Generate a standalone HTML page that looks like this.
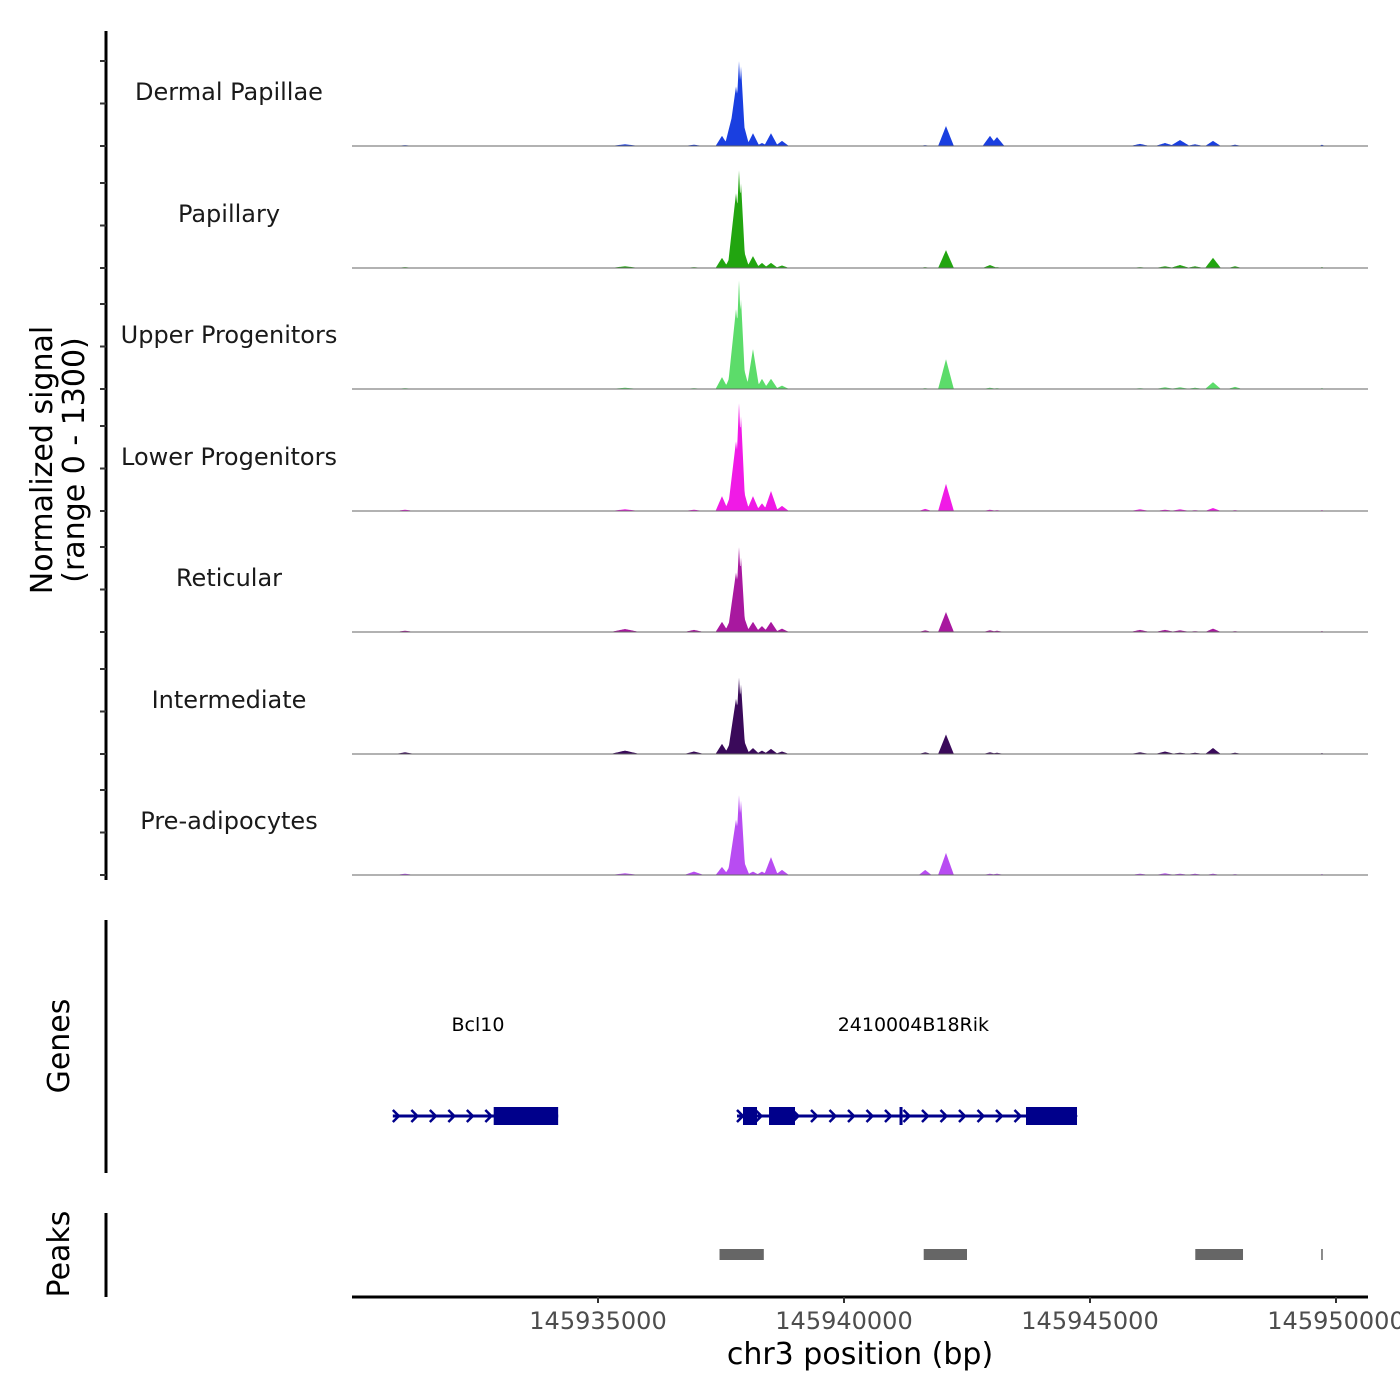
<!DOCTYPE html>
<html><head><meta charset="utf-8"><style>
html,body{margin:0;padding:0;background:#fff}
svg{display:block;font-family:"DejaVu Sans","Liberation Sans",sans-serif}
</style></head><body>
<svg id="chart" width="1400" height="1400" viewBox="0 0 1400 1400">
<g id="tracks"></g>
<g id="axes"></g>
<g id="genes"></g>
<g id="peaks"></g>
<text x="52" y="460" transform="rotate(-90 52 460)" text-anchor="middle" font-size="30" fill="#000">Normalized signal</text>
<text x="84" y="460" transform="rotate(-90 84 460)" text-anchor="middle" font-size="30" fill="#000">(range 0 - 1300)</text>
<text x="69" y="1046" transform="rotate(-90 69 1046)" text-anchor="middle" font-size="30" fill="#000">Genes</text>
<text x="69" y="1254" transform="rotate(-90 69 1254)" text-anchor="middle" font-size="30" fill="#000">Peaks</text>
<text x="860" y="1364" text-anchor="middle" font-size="30" fill="#000">chr3 position (bp)</text>
</svg>
<script>
// ---- data ----
const trackNames = ["Dermal Papillae","Papillary","Upper Progenitors","Lower Progenitors","Reticular","Intermediate","Pre-adipocytes"];
const trackColors = ["#1a3fe0","#22a510","#5cdc6a","#f01ae6","#a8189f","#3a0a5a","#b84cf2"];
const peakPos = [145931077,145935549,145936950,145937520,145937703,145937805,145937866,145937907,145937967,145938150,145938333,145938516,145938740,145941650,145942073,145942967,145943110,145946016,145946524,145946829,145947134,145947500,145947947,145949715];
const peakHalfWidth = [200,300,200,130,130,170,90,90,110,130,120,140,140,130,160,150,150,200,200,200,180,160,150,60];
const valsDermal = [10,20,15,120,300,700,1000,940,240,150,35,150,60,10,235,120,105,25,35,70,20,60,15,15];
const valsPapillary = [10,20,10,120,150,880,1150,1000,200,140,60,60,30,10,210,35,10,10,20,35,20,120,20,10];
const valsUpper = [10,15,10,140,180,940,1280,1060,240,470,120,120,40,10,350,15,10,10,20,20,15,80,25,10];
const valsLower = [15,20,15,175,200,820,1270,1120,230,175,90,235,60,25,320,15,10,20,15,20,10,35,10,10];
const valsReticular = [15,35,25,120,160,700,1000,880,180,120,70,120,40,20,235,20,15,25,25,20,10,40,10,10];
const valsIntermediate = [20,40,30,120,150,650,900,820,160,70,40,60,30,20,230,20,15,20,30,15,15,70,15,10];
const valsPreadip = [15,20,40,95,130,650,940,880,160,40,40,210,60,60,260,15,15,15,20,15,15,15,10,10];
const trackVals = [valsDermal,valsPapillary,valsUpper,valsLower,valsReticular,valsIntermediate,valsPreadip];
const xTicks = [145935000,145940000,145945000,145950000];
const geneNames = ["Bcl10","2410004B18Rik"];
const geneStart = [145930830,145937825];
const geneEnd = [145934190,145944736];
const exonStart = [[145932880],[145937947,145938476,145943699]];
const exonEnd = [[145934190],[145938232,145939004,145944736]];
const geneLabelPos = [145932560,145941410];
const peakStart = [145937470,145941620,145947140,145949700];
const peakEnd = [145938370,145942500,145948110,145949730];

// ---- scales ----
const X0=352, X1=1368, BP0=145930000, PXPERBP=246/5000;
const xs = bp => X0 + (bp-BP0)*PXPERBP;
const baselines=[146,268,389,511,632,754,875];
const YPX = 110.5/1300;
const NS="http://www.w3.org/2000/svg";
function mk(tag,attrs,parent){const e=document.createElementNS(NS,tag);for(const k in attrs)e.setAttribute(k,attrs[k]);parent.appendChild(e);return e;}

const tracks=document.getElementById('tracks');
trackNames.forEach((name,t)=>{
  const b=baselines[t];
  const g=mk('g',{},tracks);
  
  
  let d='M'+X0+','+b;
  for(let px=X0;px<=X1;px+=0.5){
    const bp=BP0+(px-X0)/PXPERBP;
    let v=0;
    for(let i=0;i<peakPos.length;i++){
      const dd=Math.abs(bp-peakPos[i]);
      if(dd<peakHalfWidth[i]) v=Math.max(v,trackVals[t][i]*(1-dd/peakHalfWidth[i]));
    }
    d+=' L'+px.toFixed(1)+','+(b-v*YPX).toFixed(2);
  }
  d+=' L'+X1+','+b+' Z';
  const p=mk('path',{d:d,fill:trackColors[t],stroke:'none'},g);
  
  
  const ln=mk('line',{x1:X0,x2:X1,y1:b,y2:b,stroke:'#666','stroke-width':1},g);
  
  
  const tx=mk('text',{x:229,y:b-46,'text-anchor':'middle','font-size':24,fill:'#1a1a1a'},g);
  tx.textContent=name;
  
  
});

// ---- axes ----
const axes=document.getElementById('axes');
let a=mk('line',{x1:106,x2:106,y1:31,y2:880,stroke:'#000','stroke-width':3},axes);


baselines.forEach(b=>{[0,500,1000].forEach(v=>{
  const y=b-v*YPX;
  const tk=mk('line',{x1:100,x2:106,y1:y,y2:y,stroke:'#333','stroke-width':2},axes);
  
  
});});
a=mk('line',{x1:106,x2:106,y1:920,y2:1173,stroke:'#000','stroke-width':3},axes);


a=mk('line',{x1:106,x2:106,y1:1213,y2:1297,stroke:'#000','stroke-width':3},axes);


a=mk('line',{x1:352,x2:1368,y1:1297,y2:1297,stroke:'#000','stroke-width':3},axes);


xTicks.forEach(v=>{
  const x=xs(v);
  const tk=mk('line',{x1:x,x2:x,y1:1297,y2:1303,stroke:'#333','stroke-width':2},axes);
  
  
  const tl=mk('text',{x:x,y:1329,'text-anchor':'middle','font-size':24,fill:'#4d4d4d'},axes);
  tl.textContent=v;
  
  
});

// ---- genes ----
const genes=document.getElementById('genes');
const GY=1116, C='#00008b';
geneNames.forEach((n,i)=>{
  const g=mk('g',{},genes);
  
  
  const x1=xs(geneStart[i]), x2=xs(geneEnd[i]);
  mk('line',{x1:x1,x2:x2,y1:GY,y2:GY,stroke:C,'stroke-width':3},g);
  for(let x=x1+3;x<x2-4;x+=18.5){
    mk('path',{d:`M${x-3},${GY-6} L${x+3},${GY} L${x-3},${GY+6}`,fill:'none',stroke:C,'stroke-width':2.5},g);
  }
  exonStart[i].forEach((s,j)=>{
    const r=mk('rect',{x:xs(s),y:GY-9,width:xs(exonEnd[i][j])-xs(s),height:18,fill:C},g);
    
    
  });
  const t=mk('text',{x:xs(geneLabelPos[i]),y:1031,'text-anchor':'middle','font-size':19,fill:'#000'},g);
  t.textContent=n;
  
  
});
mk('line',{x1:xs(145941159),x2:xs(145941159),y1:GY-9,y2:GY+9,stroke:C,'stroke-width':3},genes);

// ---- peaks ----
const peaks=document.getElementById('peaks');
peakStart.forEach((s,i)=>{
  const r=mk('rect',{x:xs(s),y:1249,width:Math.max(1.5,xs(peakEnd[i])-xs(s)),height:11,fill:'#666'},peaks);
  
  
});
</script>
</body></html>
